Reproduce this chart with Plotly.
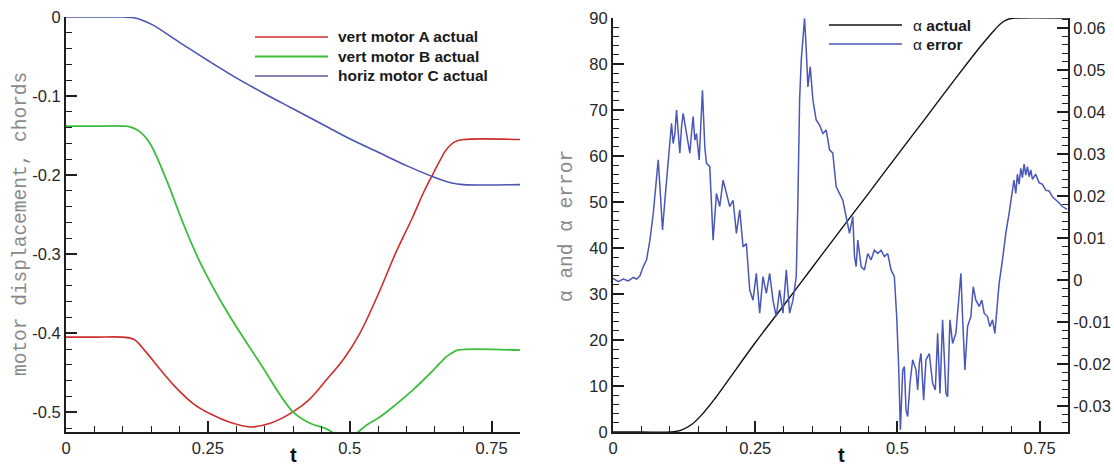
import plotly.graph_objects as go

# ---------------- Left panel data ----------------
t_A = [0, 0.05, 0.10, 0.12, 0.14, 0.165, 0.19, 0.224, 0.254, 0.29, 0.324, 0.36, 0.40, 0.43, 0.459, 0.49,
       0.518, 0.553, 0.58, 0.611, 0.63, 0.647, 0.66, 0.67, 0.685, 0.70, 0.8]
motor_A = [-0.405, -0.405, -0.405, -0.408, -0.423, -0.445, -0.466, -0.489, -0.502, -0.513, -0.5186, -0.514,
           -0.4996, -0.483, -0.459, -0.432, -0.400, -0.346, -0.300, -0.253, -0.222, -0.198, -0.180, -0.168,
           -0.158, -0.155, -0.155]

t_B = [0, 0.05, 0.10, 0.113, 0.13, 0.148, 0.177, 0.207, 0.236, 0.283, 0.342, 0.40, 0.43, 0.459, 0.475,
       0.49, 0.505, 0.53, 0.553, 0.58, 0.611, 0.63, 0.647, 0.66, 0.67, 0.68, 0.69, 0.8]
motor_B = [-0.138, -0.138, -0.138, -0.139, -0.145, -0.160, -0.206, -0.262, -0.310, -0.372, -0.438, -0.4996,
           -0.514, -0.521, -0.528, -0.532, -0.530, -0.516, -0.506, -0.491, -0.472, -0.459, -0.447, -0.437,
           -0.430, -0.425, -0.4215, -0.4215]

t_C = [0, 0.05, 0.10, 0.12, 0.15, 0.20, 0.25, 0.30, 0.35, 0.40, 0.45, 0.50, 0.55, 0.60, 0.65, 0.68, 0.70, 0.8]
motor_C = [0, 0, 0, -0.001, -0.009, -0.032, -0.055, -0.077, -0.097, -0.116, -0.135, -0.154, -0.171, -0.188,
           -0.203, -0.210, -0.212, -0.212]

# ---------------- Right panel data ----------------
t_alpha = [0, 0.05, 0.10, 0.12, 0.14, 0.16, 0.18, 0.20, 0.25, 0.30, 0.35, 0.40, 0.45, 0.50, 0.55, 0.60,
           0.63, 0.65, 0.67, 0.68, 0.69, 0.70, 0.71, 0.8]
alpha_actual = [0, 0, 0, 0.4, 1.8, 4.3, 7.4, 10.8, 19.4, 27.5, 35.7, 43.9, 52.0, 60.2, 68.3, 76.5,
                81.3, 84.4, 87.3, 88.6, 89.5, 89.9, 90, 90]

t_err = [0, 0.0094, 0.018, 0.027, 0.0357, 0.0415, 0.0474, 0.0532, 0.059, 0.0649, 0.0708, 0.0766, 0.0795,
         0.0825, 0.0871, 0.0912, 0.0971, 0.1, 0.1029, 0.1058, 0.1088, 0.1117, 0.1146, 0.1175, 0.1205, 0.1234,
         0.1292, 0.1351, 0.138, 0.1409, 0.1439, 0.1468, 0.1515, 0.1573, 0.1614, 0.1643, 0.1702, 0.176, 0.1819,
         0.1877, 0.1936, 0.1994, 0.2053, 0.2111, 0.217, 0.2228, 0.2287, 0.2345, 0.2404, 0.2462, 0.252, 0.2579,
         0.2637, 0.2696, 0.2754, 0.2813, 0.2871, 0.293, 0.2988, 0.3047, 0.3105, 0.3164, 0.3222, 0.3251, 0.3281,
         0.331, 0.3368, 0.3398, 0.3427, 0.3468, 0.3515, 0.3573, 0.3632, 0.369, 0.3749, 0.3807, 0.3865, 0.3924,
         0.3982, 0.4041, 0.4099, 0.4158, 0.4216, 0.4246, 0.4275, 0.4304, 0.4363, 0.4421, 0.448, 0.4538, 0.4596,
         0.4655, 0.4713, 0.4772, 0.483, 0.4889, 0.4947, 0.4988, 0.5023, 0.5053, 0.5094, 0.5123, 0.5152, 0.5181,
         0.5222, 0.5269, 0.5327, 0.5357, 0.5386, 0.5415, 0.5462, 0.5503, 0.5561, 0.562, 0.5667, 0.5708, 0.5749,
         0.5795, 0.5854, 0.5883, 0.5924, 0.5971, 0.6029, 0.6076, 0.6117, 0.6146, 0.6187, 0.6234, 0.6292, 0.6333,
         0.638, 0.6439, 0.6485, 0.6526, 0.6585, 0.6626, 0.6673, 0.6714, 0.6743, 0.6789, 0.6848, 0.6906, 0.6965,
         0.7023, 0.705, 0.7082, 0.711, 0.714, 0.717, 0.7199, 0.7228, 0.7257, 0.7287, 0.7316, 0.7345, 0.7374,
         0.7432, 0.7491, 0.755, 0.7608, 0.7667, 0.7725, 0.7784, 0.7842, 0.79, 0.7988]
alpha_error = [0.0004, -0.0004, 0.0002, -0.0002, 0.0006, 0.0002, 0.001, 0.0032, 0.0048, 0.0095, 0.0159, 0.0238,
               0.0286, 0.0222, 0.0119, 0.019, 0.0278, 0.0333, 0.0373, 0.0325, 0.0349, 0.0405, 0.0349, 0.0302,
               0.0365, 0.0397, 0.0349, 0.0302, 0.0349, 0.0389, 0.0333, 0.0349, 0.0286, 0.0452, 0.0317, 0.0278,
               0.027, 0.0095, 0.0206, 0.0175, 0.0238, 0.0206, 0.0175, 0.019, 0.0111, 0.0167, 0.0079, 0.0087,
               -0.0024, -0.0048, 0.0016, -0.0079, 0.0008, -0.0032, 0.0016, -0.0048, -0.0087, -0.0024, -0.0079,
               0.0024, -0.0079, -0.0048, 0.0008, 0.019, 0.0429, 0.0524, 0.0623, 0.0548, 0.046, 0.0508, 0.0429,
               0.0381, 0.0369, 0.0349, 0.0357, 0.031, 0.0302, 0.0222, 0.0206, 0.019, 0.0151, 0.0111, 0.0151,
               0.0056, 0.0032, 0.0095, 0.0032, 0.0024, 0.0063, 0.0048, 0.0071, 0.0063, 0.0071, 0.0056, 0.0063,
               0.0024, 0.0008, -0.0087, -0.0206, -0.0357, -0.0214, -0.0206, -0.031, -0.0325, -0.0246, -0.019,
               -0.0214, -0.0262, -0.0198, -0.0175, -0.0286, -0.019, -0.0175, -0.0246, -0.0262, -0.0127, -0.027,
               -0.0095, -0.027, -0.0278, -0.0095, -0.0151, -0.0127, -0.0048, 0.0016, -0.0087, -0.0214, -0.0111,
               -0.0087, -0.0016, -0.0048, -0.0063, -0.0048, -0.0079, -0.0087, -0.0111, -0.0095, -0.0127, -0.0079,
               -0.0008, 0.0048, 0.0111, 0.0159, 0.0206, 0.0238,
               0.0206, 0.0252, 0.0228, 0.0266, 0.0244, 0.0276, 0.025, 0.027, 0.0246, 0.0262, 0.024, 0.0252,
               0.0232, 0.0228, 0.0214, 0.0212, 0.0198, 0.0192, 0.0184, 0.0175, 0.0168, 0.0155]

left_legend = ["vert motor A actual", "vert motor B actual", "horiz motor C actual"]
right_legend = ["\u03b1 <b>actual</b>", "\u03b1 <b>error</b>"]

RED = "#cf2d2d"
GREEN = "#3dbd3d"
BLUE = "#4b53b3"
BLUE_LEG = "#5a5a9e"
ERR = "#4a56b8"
AX = "#1e1e1e"
W, H = 1114, 469


def px(x):
    return x / W


def py(y):
    return 1 - y / H


fig = go.Figure()
fig.add_trace(go.Scatter(x=t_A, y=motor_A, mode="lines", line=dict(color=RED, width=1.6, shape="spline"),
                         xaxis="x", yaxis="y", name=left_legend[0]))
fig.add_trace(go.Scatter(x=t_B, y=motor_B, mode="lines", line=dict(color=GREEN, width=1.8, shape="spline"),
                         xaxis="x", yaxis="y", name=left_legend[1]))
fig.add_trace(go.Scatter(x=t_C, y=motor_C, mode="lines", line=dict(color=BLUE, width=1.6, shape="spline"),
                         xaxis="x", yaxis="y", name=left_legend[2]))
fig.add_trace(go.Scatter(x=t_alpha, y=alpha_actual, mode="lines", line=dict(color="#111111", width=1.4, shape="spline"),
                         xaxis="x2", yaxis="y2", name="alpha actual"))
fig.add_trace(go.Scatter(x=t_err, y=alpha_error, mode="lines", line=dict(color=ERR, width=1.5),
                         xaxis="x2", yaxis="y3", name="alpha error"))

tickfont = dict(family="Liberation Sans, Arial", size=16.5, color="#262626")
common = dict(showgrid=False, zeroline=False, showline=True, linecolor=AX, linewidth=2, automargin=False,
              ticks="inside", ticklen=11, tickwidth=2, tickcolor=AX, tickfont=tickfont,
              ticklabeloverflow="allow")
minor_common = dict(ticks="inside", ticklen=6, tickwidth=1, tickcolor=AX)

xdom1 = [px(66), px(520)]
xdom2 = [px(613), px(1068)]
ydom = [py(432), py(17)]
ydom2 = [py(432), py(18)]

fig.update_layout(
    width=W, height=H, margin=dict(l=0, r=0, t=0, b=0, autoexpand=False),
    paper_bgcolor="white", plot_bgcolor="white", showlegend=False,
    xaxis=dict(domain=xdom1, range=[0, 0.8], anchor="y", tickvals=[0, 0.25, 0.5, 0.75],
               ticktext=["0", "0.25", "0.5", "0.75"],
               minor=dict(dtick=0.05, tick0=0, **minor_common), **common),
    yaxis=dict(domain=ydom, range=[-0.525, 0.00005], anchor="x", tickvals=[0, -0.1, -0.2, -0.3, -0.4, -0.5],
               ticktext=["0", "-0.1", "-0.2", "-0.3", "-0.4", "-0.5"],
               minor=dict(dtick=0.02, tick0=0, **minor_common), **common),
    xaxis2=dict(domain=xdom2, range=[0, 0.8], anchor="y2", tickvals=[0, 0.25, 0.5, 0.75],
                ticktext=["0", "0.25", "0.5", "0.75"],
                minor=dict(dtick=0.05, tick0=0, **minor_common), **common),
    yaxis2=dict(domain=ydom2, range=[0, 90], anchor="x2", dtick=10, tick0=0,
                minor=dict(dtick=2, tick0=0, **minor_common), **common),
    yaxis3=dict(overlaying="y2", side="right", anchor="x2", range=[-0.0362, 0.0624],
                tickvals=[-0.03, -0.02, -0.01, 0, 0.01, 0.02, 0.03, 0.04, 0.05, 0.06],
                ticktext=["-0.03", "-0.02", "-0.01", "0", "0.01", "0.02", "0.03", "0.04", "0.05", "0.06"],
                minor=dict(dtick=0.002, tick0=0, **minor_common), **common),
)

annotations = []
shapes = []
# axis titles
annotations.append(dict(x=px(21), y=py(224), xref="paper", yref="paper", text="motor displacement, chords",
                        textangle=-90, showarrow=False, xanchor="center", yanchor="middle",
                        font=dict(family="Liberation Mono, Courier New", size=19.5, color="#8a8a8a")))
annotations.append(dict(x=px(567), y=py(226), xref="paper", yref="paper", text="\u03b1 and \u03b1 error",
                        textangle=-90, showarrow=False, xanchor="center", yanchor="middle",
                        font=dict(family="Liberation Mono, Courier New", size=19.5, color="#8a8a8a")))
for xc in (293, 841):
    annotations.append(dict(x=px(xc), y=py(455), xref="paper", yref="paper", text="<b>t</b>", showarrow=False,
                            xanchor="center", yanchor="middle",
                            font=dict(family="Liberation Sans, Arial", size=20, color="#111111")))

# left legend
leg_cols = [RED, GREEN, BLUE_LEG]
for i, (lab, col) in enumerate(zip(left_legend, leg_cols)):
    yy = 37 + 19.5 * i
    shapes.append(dict(type="line", xref="paper", yref="paper", x0=px(255), x1=px(328), y0=py(yy), y1=py(yy),
                       line=dict(color=col, width=2 if i == 1 else 1.6)))
    annotations.append(dict(x=px(336), y=py(yy), xref="paper", yref="paper", text="<b>" + lab + "</b>",
                            showarrow=False, xanchor="left", yanchor="middle",
                            font=dict(family="Liberation Sans, Arial", size=15.5, color="#1a1a1a")))
# right legend
for i, (lab, col) in enumerate(zip(right_legend, ["#111111", ERR])):
    yy = 25 + 19 * i
    shapes.append(dict(type="line", xref="paper", yref="paper", x0=px(829), x1=px(902), y0=py(yy), y1=py(yy),
                       line=dict(color=col, width=1.4)))
    annotations.append(dict(x=px(911), y=py(yy), xref="paper", yref="paper", text=lab, showarrow=False,
                            xanchor="left", yanchor="middle",
                            font=dict(family="Liberation Sans, Arial", size=15.5, color="#1a1a1a")))

fig.update_layout(annotations=annotations, shapes=shapes)
fig.write_html("out.html", config={"displayModeBar": False},
               post_script="document.documentElement.style.margin='0';document.body.style.margin='0';"
                           "document.body.style.overflow='hidden';")
